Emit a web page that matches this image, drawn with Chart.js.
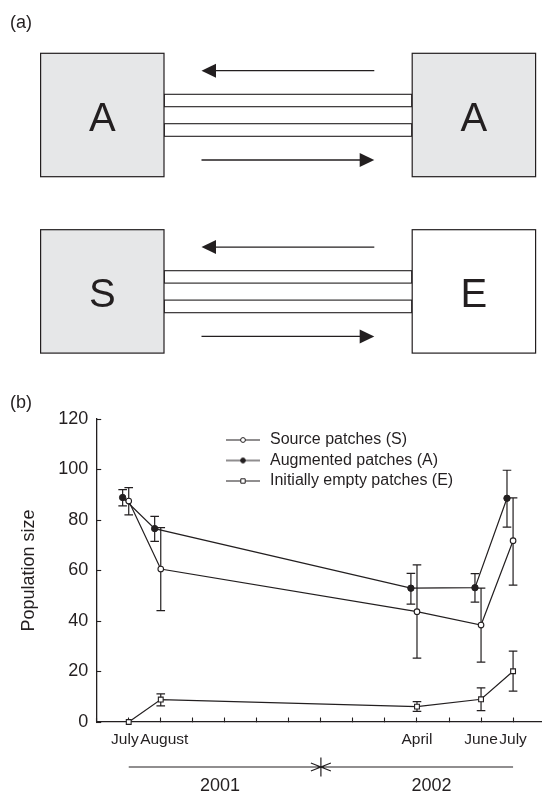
<!DOCTYPE html>
<html>
<head>
<meta charset="utf-8">
<title>Population size in source, augmented and empty patches</title>
<script src="https://cdn.jsdelivr.net/npm/chart.js@4.4.1/dist/chart.umd.min.js"></script>
<style>
  html, body { margin: 0; padding: 0; background: #fff; }
  body { width: 547px; height: 793px; position: relative; overflow: hidden; font-family: "Liberation Sans", Arial, sans-serif; }
  #chartBox { position: absolute; left: 0; top: 400px; width: 547px; height: 393px; }
  #diagram { position: absolute; left: 0; top: 0; pointer-events: none; }
</style>
</head>
<body>
<div id="chartBox"><canvas id="chartPopulacao"></canvas></div>

<!-- (a) schematic of the two patch pairs -->
<svg id="diagram" width="547" height="420" xmlns="http://www.w3.org/2000/svg" font-family="Liberation Sans, Arial, sans-serif" fill="#231f20">
  <text x="10" y="27.5" font-size="18">(a)</text>
  <g id="row1" stroke="#231f20">
    <rect x="164.3" y="94.3" width="247.4" height="12.4" fill="#fff" stroke-width="1.1"/>
    <rect x="164.3" y="123.7" width="247.4" height="12.6" fill="#fff" stroke-width="1.1"/>
    <rect x="40.6" y="53.3" width="123.4" height="123.4" fill="#e6e7e8" stroke-width="1.2"/>
    <rect x="412.2" y="53.3" width="123.4" height="123.4" fill="#e6e7e8" stroke-width="1.2"/>
    <line x1="214" y1="70.7" x2="374.3" y2="70.7" stroke-width="1.3"/>
    <polygon points="201.5,70.7 216,63.7 216,77.7" stroke="none"/>
    <line x1="201.5" y1="160" x2="361" y2="160" stroke-width="1.3"/>
    <polygon points="374.3,160 359.7,153 359.7,167" stroke="none"/>
  </g>
  <text x="102.3" y="130.7" font-size="40" text-anchor="middle">A</text>
  <text x="473.9" y="130.7" font-size="40" text-anchor="middle">A</text>
  <g id="row2" stroke="#231f20" transform="translate(0,176.4)">
    <rect x="164.3" y="94.3" width="247.4" height="12.4" fill="#fff" stroke-width="1.1"/>
    <rect x="164.3" y="123.7" width="247.4" height="12.6" fill="#fff" stroke-width="1.1"/>
    <rect x="40.6" y="53.3" width="123.4" height="123.4" fill="#e6e7e8" stroke-width="1.2"/>
    <rect x="412.2" y="53.3" width="123.4" height="123.4" fill="#fff" stroke-width="1.2"/>
    <line x1="214" y1="70.7" x2="374.3" y2="70.7" stroke-width="1.3"/>
    <polygon points="201.5,70.7 216,63.7 216,77.7" stroke="none"/>
    <line x1="201.5" y1="160" x2="361" y2="160" stroke-width="1.3"/>
    <polygon points="374.3,160 359.7,153 359.7,167" stroke="none"/>
  </g>
  <text x="102.3" y="307.2" font-size="40" text-anchor="middle">S</text>
  <text x="473.9" y="307.2" font-size="40" text-anchor="middle">E</text>
  <text x="10" y="408" font-size="18">(b)</text>
</svg>

<script>
// meses contados a partir de junho/2001 (0 = junho 2001)
const monthLabels = ['July', 'August', 'April', 'June', 'July'];
const monthIndex = [1, 2, 10, 12, 13];

// media e barras de erro
const sourceMean = [87.5, 60.6, 43.7, 38.4, 71.8];
const sourceLow  = [82.0, 44.1, 25.3, 23.7, 54.2];
const sourceHigh = [92.8, 77.0, 62.2, 53.0, 88.8];

const augMean = [88.9, 76.6, 53.0, 53.2, 88.6];
const augLow  = [85.6, 71.5, 46.7, 47.5, 77.2];
const augHigh = [92.0, 81.4, 58.9, 58.8, 99.7];

const emptyMean = [0, 8.9, 6.1, 9.0, 20.1];
const emptyLow  = [null, 6.4, 4.2, 4.5, 12.2];
const emptyHigh = [null, 11.1, 8.1, 13.5, 28.1];

const yTicks = [0, 20, 40, 60, 80, 100, 120];
const yearLabels = ['2001', '2002'];
const yearLabelAt = [3.85, 10.45];
const yearBounds = [1, 7, 13];
const seriesNames = ['Source patches (S)', 'Augmented patches (A)', 'Initially empty patches (E)'];

// deslocamentos de desenho (nao sao dados)
const ink = '#231f20';
const dodge = -0.19;
const labelNudge = [-0.12, 0.11, 0, 0, 0];

Chart.defaults.font.family = '"Liberation Sans", Arial, sans-serif';
Chart.defaults.color = ink;

function pontos(ys, shift) {
    return monthIndex.map((m, i) => ({ x: m + shift, y: ys[i] }));
}

function marcaLegenda(style, fill) {
    const c = document.createElement('canvas');
    c.width = 36;
    c.height = 10;
    const g = c.getContext('2d');
    g.strokeStyle = ink;
    g.lineWidth = 1.2;
    g.beginPath();
    g.moveTo(0, 5);
    g.lineTo(34, 5);
    g.stroke();
    g.fillStyle = fill;
    g.lineWidth = 1;
    g.beginPath();
    if (style === 'rect') {
        g.rect(17 - 2.2, 5 - 2.2, 4.4, 4.4);
    } else {
        g.arc(17, 5, 2.4, 0, Math.PI * 2);
    }
    g.fill();
    g.stroke();
    return c;
}

const marcas = [
    marcaLegenda('circle', '#fff'),
    marcaLegenda('circle', ink),
    marcaLegenda('rect', '#fff')
];

const barrasErro = {
    id: 'barrasErro',
    beforeDatasetsDraw(chart) {
        const ctx = chart.ctx;
        const y = chart.scales.y;
        const cap = 4.3;
        ctx.save();
        ctx.strokeStyle = ink;
        ctx.lineWidth = 1.2;
        chart.data.datasets.forEach((ds, di) => {
            chart.getDatasetMeta(di).data.forEach((pt, i) => {
                if (ds.errLow[i] == null) return;
                const top = y.getPixelForValue(ds.errHigh[i]);
                const bot = y.getPixelForValue(ds.errLow[i]);
                ctx.beginPath();
                ctx.moveTo(pt.x, top);
                ctx.lineTo(pt.x, bot);
                ctx.moveTo(pt.x - cap, top);
                ctx.lineTo(pt.x + cap, top);
                ctx.moveTo(pt.x - cap, bot);
                ctx.lineTo(pt.x + cap, bot);
                ctx.stroke();
            });
        });
        ctx.restore();
    }
};

const linhaAnos = {
    id: 'linhaAnos',
    afterDraw(chart) {
        const s = chart.scales.x2;
        const ctx = chart.ctx;
        const y = s.top + 10;
        const a = s.getPixelForValue(yearBounds[0]);
        const m = s.getPixelForValue(yearBounds[1]);
        const b = s.getPixelForValue(yearBounds[2]);
        ctx.save();
        ctx.strokeStyle = ink;
        ctx.lineWidth = 1.2;
        ctx.beginPath();
        ctx.moveTo(a, y);
        ctx.lineTo(b, y);
        ctx.moveTo(m, y - 9.5);
        ctx.lineTo(m, y + 9.5);
        ctx.moveTo(m - 10, y - 4);
        ctx.lineTo(m, y);
        ctx.lineTo(m - 10, y + 4);
        ctx.moveTo(m + 10, y - 4);
        ctx.lineTo(m, y);
        ctx.lineTo(m + 10, y + 4);
        ctx.stroke();
        ctx.restore();
    }
};

// coloca a legenda dentro da area do grafico
const posLegenda = {
    id: 'posLegenda',
    afterLayout(chart) {
        const lg = chart.legend;
        const area = chart.chartArea;
        lg.left = area.left + 124.8;
        lg.top = area.top + 8.5;
        lg.right = lg.left + 300;
        lg.bottom = lg.top + 80;
    }
};

const dados = {
    datasets: [{
        label: seriesNames[0],
        data: pontos(sourceMean, 0),
        errLow: sourceLow,
        errHigh: sourceHigh,
        borderColor: ink,
        borderWidth: 1.2,
        pointStyle: 'circle',
        pointRadius: 2.8,
        pointBackgroundColor: '#fff',
        pointBorderColor: ink,
        pointBorderWidth: 1.1,
        clip: false
    }, {
        label: seriesNames[1],
        data: pontos(augMean, dodge),
        errLow: augLow,
        errHigh: augHigh,
        borderColor: ink,
        borderWidth: 1.2,
        pointStyle: 'circle',
        pointRadius: 3.2,
        pointBackgroundColor: ink,
        pointBorderColor: ink,
        pointBorderWidth: 1,
        clip: false
    }, {
        label: seriesNames[2],
        data: pontos(emptyMean, 0),
        errLow: emptyLow,
        errHigh: emptyHigh,
        borderColor: ink,
        borderWidth: 1.2,
        pointStyle: 'rect',
        pointRadius: 3.4,
        pointBackgroundColor: '#fff',
        pointBorderColor: ink,
        pointBorderWidth: 1.1,
        clip: false
    }]
};

const configuracao = {
    type: 'line',
    data: dados,
    options: {
        responsive: true,
        maintainAspectRatio: false,
        animation: false,
        layout: { padding: { top: 19, left: 0, right: 0, bottom: 0 } },
        plugins: {
            tooltip: { enabled: false },
            legend: {
                position: 'chartArea',
                align: 'start',
                labels: {
                    usePointStyle: true,
                    pointStyleWidth: 36,
                    padding: 4.5,
                    color: ink,
                    font: { size: 16 },
                    generateLabels(chart) {
                        return chart.data.datasets.map((ds, i) => ({
                            text: ds.label,
                            pointStyle: marcas[i],
                            fontColor: ink,
                            fillStyle: ink,
                            strokeStyle: ink,
                            lineWidth: 0,
                            hidden: false,
                            datasetIndex: i
                        }));
                    }
                }
            }
        },
        scales: {
            x: {
                type: 'linear',
                position: 'bottom',
                min: 0,
                max: 13.9,
                bounds: 'data',
                weight: 1,
                afterBuildTicks(s) {
                    const t = [];
                    for (let m = 0; m <= 13; m++) t.push({ value: m });
                    monthIndex.forEach((m, i) => t.push({ value: m + labelNudge[i], name: monthLabels[i] }));
                    s.ticks = t;
                },
                afterFit(s) {
                    s.height = 35;
                    s.paddingLeft = 0;
                    s.paddingRight = 0;
                },
                ticks: {
                    autoSkip: false,
                    maxRotation: 0,
                    padding: 12.9,
                    color: ink,
                    font: { size: 15.5 },
                    callback: (v, i, t) => t[i].name || ''
                },
                grid: {
                    drawOnChartArea: false,
                    tickLength: -4.5,
                    tickWidth: 1.1,
                    tickColor: (c) => (c.tick && c.tick.name) ? 'rgba(0,0,0,0)' : ink
                },
                border: { color: ink, width: 1.3 }
            },
            x2: {
                type: 'linear',
                position: 'bottom',
                min: 0,
                max: 13.9,
                bounds: 'data',
                weight: 2,
                afterBuildTicks(s) {
                    s.ticks = yearLabelAt.map((v, i) => ({ value: v, name: yearLabels[i] }));
                },
                afterFit(s) {
                    s.height = 36;
                    s.paddingLeft = 0;
                    s.paddingRight = 0;
                },
                ticks: {
                    autoSkip: false,
                    maxRotation: 0,
                    padding: 18,
                    color: ink,
                    font: { size: 18 },
                    callback: (v, i, t) => t[i].name
                },
                grid: { display: false, drawTicks: false },
                border: { display: false }
            },
            y: {
                min: 0,
                max: 120,
                bounds: 'data',
                afterBuildTicks(s) {
                    s.ticks = yTicks.map(v => ({ value: v }));
                },
                afterFit(s) {
                    s.width = 96.7;
                    s.paddingTop = 0;
                    s.paddingBottom = 0;
                },
                ticks: {
                    padding: 12.9,
                    color: ink,
                    font: { size: 18 },
                    callback: (v) => String(v)
                },
                grid: {
                    drawOnChartArea: false,
                    tickLength: -4.5,
                    tickWidth: 1.1,
                    tickColor: ink
                },
                border: { color: ink, width: 1.3 },
                title: {
                    display: true,
                    text: 'Population size',
                    color: ink,
                    font: { size: 18 },
                    padding: { top: 18, bottom: 0 }
                }
            }
        }
    },
    plugins: [barrasErro, linhaAnos, posLegenda]
};

var chartPopulacao = new Chart(document.getElementById('chartPopulacao'), configuracao);
</script>
</body>
</html>
